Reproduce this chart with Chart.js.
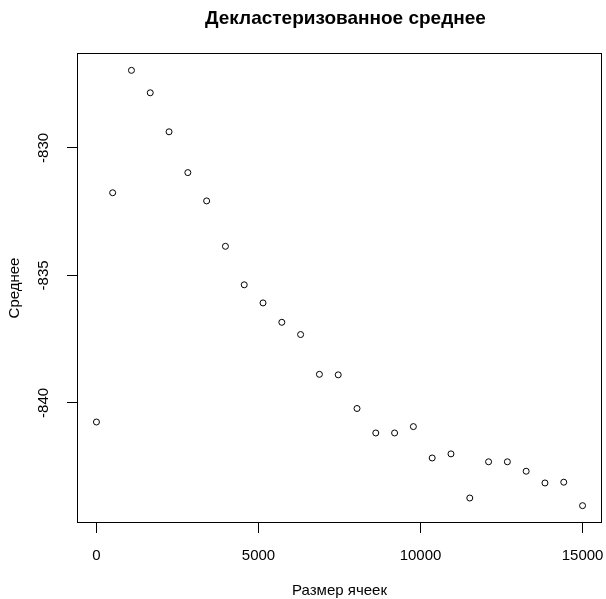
<!DOCTYPE html>
<html>
<head>
<meta charset="utf-8">
<script src="https://cdn.jsdelivr.net/npm/chart.js@4"></script>
<style>
  html, body { margin: 0; padding: 0; background: #fff; }
  #wrap { width: 606px; height: 599px; }
</style>
</head>
<body>
<div id="wrap"><canvas id="myChart" width="606" height="599"></canvas></div>
<script>
// размер ячеек и декластеризованное среднее
var cellSizes = [0, 500, 1080, 1660, 2240, 2820, 3400, 3980, 4560, 5140, 5720, 6300, 6880, 7460,
                 8040, 8620, 9200, 9780, 10360, 10940, 11520, 12100, 12680, 13260, 13840, 14420, 15000];
var declusMeans = [-840.75, -831.76, -826.96, -827.84, -829.37, -830.97, -832.08, -833.86, -835.37,
                   -836.08, -836.84, -837.32, -838.88, -838.90, -840.22, -841.18, -841.18, -840.93,
                   -842.16, -842.00, -843.73, -842.31, -842.31, -842.68, -843.14, -843.11, -844.03];
var xTicks = [0, 5000, 10000, 15000];
var yTicks = [-840, -835, -830];

var FONT = '"Liberation Sans", Arial, Helvetica, sans-serif';

var points = cellSizes.map(function(x, i) {
    return { x: x, y: declusMeans[i] };
});

// рамка, заголовок и подписи осей в стиле R
var rStyle = {
    id: 'rStyle',
    afterDraw: function(chart) {
        var ctx = chart.ctx;
        var a = chart.chartArea;
        ctx.save();
        ctx.strokeStyle = '#000';
        ctx.lineWidth = 1;
        ctx.strokeRect(Math.round(a.left) + 0.5, Math.round(a.top) + 0.5,
                       Math.round(a.right - a.left) - 1, Math.round(a.bottom - a.top) - 1);

        ctx.fillStyle = '#000';
        ctx.textAlign = 'left';
        ctx.textBaseline = 'middle';
        ctx.font = 'bold 19px ' + FONT;
        ctx.fillText('Декластеризованное среднее', 205, 19);

        ctx.textAlign = 'center';
        ctx.font = '15px ' + FONT;
        ctx.fillText('Размер ячеек', (a.left + a.right) / 2, 591);

        // подписи делений по оси Y, повернутые как в R
        var ys = chart.scales.y;
        ys.ticks.forEach(function(t) {
            var py = ys.getPixelForValue(t.value);
            ctx.save();
            ctx.translate(44, py);
            ctx.rotate(-Math.PI / 2);
            ctx.fillText(String(t.value), 0, 0);
            ctx.restore();
        });

        ctx.save();
        ctx.translate(15, (a.top + a.bottom) / 2);
        ctx.rotate(-Math.PI / 2);
        ctx.fillText('Среднее', 0, 0);
        ctx.restore();
        ctx.restore();
    }
};

var ctx = document.getElementById('myChart').getContext('2d');
var myChart = new Chart(ctx, {
    type: 'scatter',
    data: {
        datasets: [{
            label: 'Среднее',
            data: points,
            pointStyle: 'circle',
            pointRadius: 3,
            pointHoverRadius: 3,
            backgroundColor: 'rgba(0,0,0,0)',
            borderColor: '#000',
            borderWidth: 1
        }]
    },
    options: {
        responsive: false,
        animation: false,
        layout: { padding: { top: 53, right: 3, left: 0, bottom: 0 } },
        plugins: {
            legend: { display: false },
            title: { display: false },
            tooltip: { enabled: false }
        },
        scales: {
            x: {
                type: 'linear',
                min: -600,
                max: 15600,
                afterBuildTicks: function(scale) {
                    scale.ticks = xTicks.map(function(v) { return { value: v }; });
                },
                afterFit: function(scale) {
                    scale.height = 76;
                    scale.paddingLeft = 0;
                    scale.paddingRight = 0;
                },
                grid: {
                    drawOnChartArea: false,
                    drawTicks: true,
                    tickLength: 10,
                    color: '#000'
                },
                border: { display: false },
                ticks: {
                    color: '#000',
                    font: { family: FONT, size: 15 },
                    padding: 14,
                    maxRotation: 0,
                    autoSkip: false,
                    callback: function(v) { return String(v); }
                }
            },
            y: {
                type: 'linear',
                min: -844.71,
                max: -826.28,
                afterBuildTicks: function(scale) {
                    scale.ticks = yTicks.map(function(v) { return { value: v }; });
                },
                afterFit: function(scale) {
                    scale.width = 77;
                    scale.paddingTop = 0;
                    scale.paddingBottom = 0;
                },
                grid: {
                    drawOnChartArea: false,
                    drawTicks: true,
                    tickLength: 10,
                    color: '#000'
                },
                border: { display: false },
                ticks: { display: false }
            }
        }
    },
    plugins: [rStyle]
});
</script>
</body>
</html>
